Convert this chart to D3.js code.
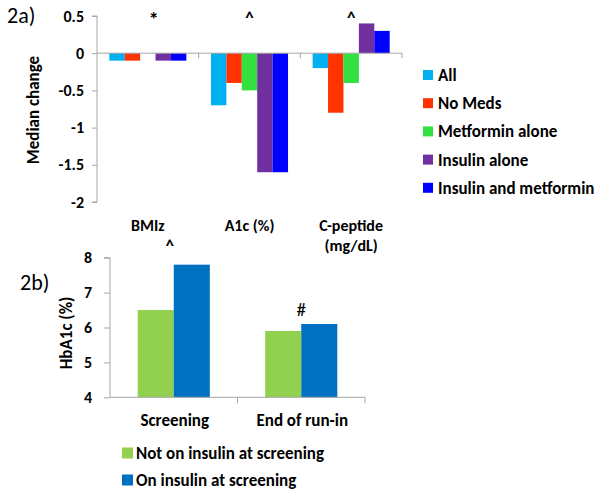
<!DOCTYPE html>
<html>
<head>
<meta charset="utf-8">
<script src="https://cdn.jsdelivr.net/npm/d3@7"></script>
<style>
  html, body { margin: 0; padding: 0; background: #fff; }
  svg { display: block; }
  text { font-family: Carlito, Calibri, Lato, "Open Sans", sans-serif; fill: #000; }
</style>
</head>
<body>
<svg id="chart" width="600" height="493"></svg>
<script>
// ---------- Panel 2a data ----------
const categoriesA = ["BMIz", "A1c (%)", "C-peptide\n(mg/dL)"];
const seriesA = ["All", "No Meds", "Metformin alone", "Insulin alone", "Insulin and metformin"];
const valuesAll = [-0.1, -0.7, -0.2];
const valuesNoMeds = [-0.1, -0.4, -0.8];
const valuesMetformin = [0, -0.5, -0.4];
const valuesInsulin = [-0.1, -1.6, 0.4];
const valuesInsulinMet = [-0.1, -1.6, 0.3];
const marksA = ["*", "^", "^"];
const ticksA = [0.5, 0, -0.5, -1, -1.5, -2];
const tickLabelsA = ["0.5", "0", "-0.5", "-1", "-1.5", "-2"];
const colorsA = ["#00B0F0", "#FF3300", "#33E040", "#7030A0", "#0000FF"];

// ---------- Panel 2b data ----------
const categoriesB = ["Screening", "End of run-in"];
const seriesB = ["Not on insulin at screening", "On insulin at screening"];
const valuesNotInsulin = [6.5, 5.9];
const valuesOnInsulin = [7.8, 6.1];
const marksB = ["^", "#"];
const ticksB = [4, 5, 6, 7, 8];
const colorsB = ["#92D050", "#0070C0"];

const svg = d3.select("#chart");
const axisColor = "#A6A6A6";

// ================= Panel 2a =================
(function () {
  const valuesA = [valuesAll, valuesNoMeds, valuesMetformin, valuesInsulin, valuesInsulinMet];
  const left = 97, right = 402, top = 16, bottom = 202;
  const y = d3.scaleLinear().domain([-2, 0.5]).range([bottom, top]);
  const x = d3.scaleBand().domain(categoriesA).range([left, right]).padding(0);
  const xs = d3.scaleBand().domain(seriesA).range([12.3, x.bandwidth() - 12.3]).padding(0);
  const color = d3.scaleOrdinal().domain(seriesA).range(colorsA);
  const g = svg.append("g");

  // y axis
  const yAxis = d3.axisLeft(y).tickValues(ticksA)
    .tickFormat((d, i) => tickLabelsA[i]).tickSize(5).tickPadding(8);
  const ya = g.append("g").attr("transform", `translate(${left},0)`).call(yAxis);
  ya.select(".domain").attr("stroke", axisColor).attr("d", `M-5,${top}H0V${bottom}H-5`);
  ya.selectAll(".tick line").attr("stroke", axisColor);
  ya.selectAll(".tick text").attr("font-size", 16).attr("font-weight", "bold")
    .attr("font-family", null);

  // bars
  const data = [];
  categoriesA.forEach((c, ci) => seriesA.forEach((s, si) => data.push({ c, s, v: valuesA[si][ci] })));
  g.selectAll("rect.bar").data(data.filter(d => d.v !== 0)).join("rect")
    .attr("x", d => x(d.c) + xs(d.s))
    .attr("width", xs.bandwidth())
    .attr("y", d => y(Math.max(0, d.v)))
    .attr("height", d => Math.abs(y(d.v) - y(0)))
    .attr("fill", d => color(d.s));

  // zero line with category tick marks
  g.append("line").attr("x1", left).attr("x2", right).attr("y1", y(0)).attr("y2", y(0))
    .attr("stroke", axisColor);
  const bounds = categoriesA.map(c => x(c)).concat([right]);
  g.selectAll("line.ctick").data(bounds.slice(1)).join("line")
    .attr("x1", d => d).attr("x2", d => d).attr("y1", y(0)).attr("y2", y(0) + 5)
    .attr("stroke", axisColor);

  // significance marks
  g.selectAll("text.mark").data(categoriesA).join("text")
    .attr("x", (c) => x(c) + x.bandwidth() / 2 + (c === "BMIz" ? 6 : 0))
    .attr("y", (c) => c === "BMIz" ? 26 : 24).attr("text-anchor", "middle")
    .attr("font-size", (c) => c === "BMIz" ? 21 : 17).attr("font-weight", "bold")
    .text((c, i) => marksA[i]);

  // category labels
  g.selectAll("text.cat").data(categoriesA).join("text")
    .attr("text-anchor", "middle").attr("font-size", 16).attr("font-weight", "bold")
    .attr("transform", c => `translate(${x(c) + x.bandwidth() / 2},231)`)
    .each(function (c) {
      c.split("\n").forEach((line, i) => {
        d3.select(this).append("tspan").attr("x", 0).attr("dy", i === 0 ? 0 : 20).text(line);
      });
    });

  // y title
  g.append("text").attr("transform", "translate(39,110) rotate(-90)")
    .attr("text-anchor", "middle").attr("font-size", 17).attr("font-weight", "bold")
    .text("Median change");

  // panel label
  g.append("text").attr("x", 7).attr("y", 23).attr("font-size", 22).text("2a)");

  // legend
  const lg = g.append("g");
  seriesA.forEach((s, i) => {
    const cy = 75 + i * 28.2;
    lg.append("rect").attr("x", 423).attr("y", cy - 5).attr("width", 10).attr("height", 10)
      .attr("fill", color(s));
    lg.append("text").attr("x", 438).attr("y", cy + 6).attr("font-size", 17)
      .attr("font-weight", "bold").text(s);
  });
})();

// ================= Panel 2b =================
(function () {
  const valuesB = [valuesNotInsulin, valuesOnInsulin];
  const left = 110, right = 365, top = 257.7, bottom = 397.3;
  const y = d3.scaleLinear().domain([4, 8]).range([bottom, top]);
  const x = d3.scaleBand().domain(categoriesB).range([left, right]).padding(0);
  const xs = d3.scaleBand().domain(seriesB).range([27.7, x.bandwidth() - 27.7]).padding(0);
  const color = d3.scaleOrdinal().domain(seriesB).range(colorsB);
  const g = svg.append("g");

  const yAxis = d3.axisLeft(y).tickValues(ticksB).tickFormat(d3.format("d"))
    .tickSize(6).tickPadding(12);
  const ya = g.append("g").attr("transform", `translate(${left},0)`).call(yAxis);
  ya.select(".domain").attr("stroke", axisColor).attr("d", `M-6,${top}H0V${bottom}`);
  ya.selectAll(".tick line").attr("stroke", axisColor);
  ya.selectAll(".tick text").attr("font-size", 16).attr("font-weight", "bold")
    .attr("font-family", null);

  const data = [];
  categoriesB.forEach((c, ci) => seriesB.forEach((s, si) => data.push({ c, s, v: valuesB[si][ci] })));
  g.selectAll("rect.bar").data(data).join("rect")
    .attr("x", d => x(d.c) + xs(d.s))
    .attr("width", xs.bandwidth())
    .attr("y", d => y(d.v))
    .attr("height", d => y(4) - y(d.v))
    .attr("fill", d => color(d.s));

  // x axis line + ticks between categories
  g.append("line").attr("x1", left).attr("x2", right).attr("y1", bottom).attr("y2", bottom)
    .attr("stroke", axisColor);
  const bounds = categoriesB.map(c => x(c)).concat([right]);
  g.selectAll("line.ctick").data(bounds.slice(1)).join("line")
    .attr("x1", d => d).attr("x2", d => d).attr("y1", bottom).attr("y2", bottom + 6)
    .attr("stroke", axisColor);

  // marks
  g.append("text").attr("x", x(categoriesB[0]) + x.bandwidth() / 2 - 4).attr("y", 252)
    .attr("text-anchor", "middle").attr("font-size", 17).attr("font-weight", "bold").text(marksB[0]);
  g.append("text").attr("x", x(categoriesB[1]) + xs(seriesB[1])).attr("y", 316)
    .attr("text-anchor", "middle").attr("font-size", 19).text(marksB[1]);

  // category labels
  g.selectAll("text.cat").data(categoriesB).join("text")
    .attr("x", c => x(c) + x.bandwidth() / 2 + 1).attr("y", 426)
    .attr("text-anchor", "middle").attr("font-size", 17).attr("font-weight", "bold")
    .text(c => c);

  // y title
  g.append("text").attr("transform", "translate(72,333) rotate(-90)")
    .attr("text-anchor", "middle").attr("font-size", 17).attr("font-weight", "bold")
    .text("HbA1c (%)");

  g.append("text").attr("x", 20).attr("y", 290).attr("font-size", 22).text("2b)");

  seriesB.forEach((s, i) => {
    const cy = 453 + i * 27;
    g.append("rect").attr("x", 122).attr("y", cy - 5.5).attr("width", 11).attr("height", 11)
      .attr("fill", color(s));
    g.append("text").attr("x", 136).attr("y", cy + 6).attr("font-size", 17)
      .attr("font-weight", "bold").text(s);
  });
})();
</script>
</body>
</html>
